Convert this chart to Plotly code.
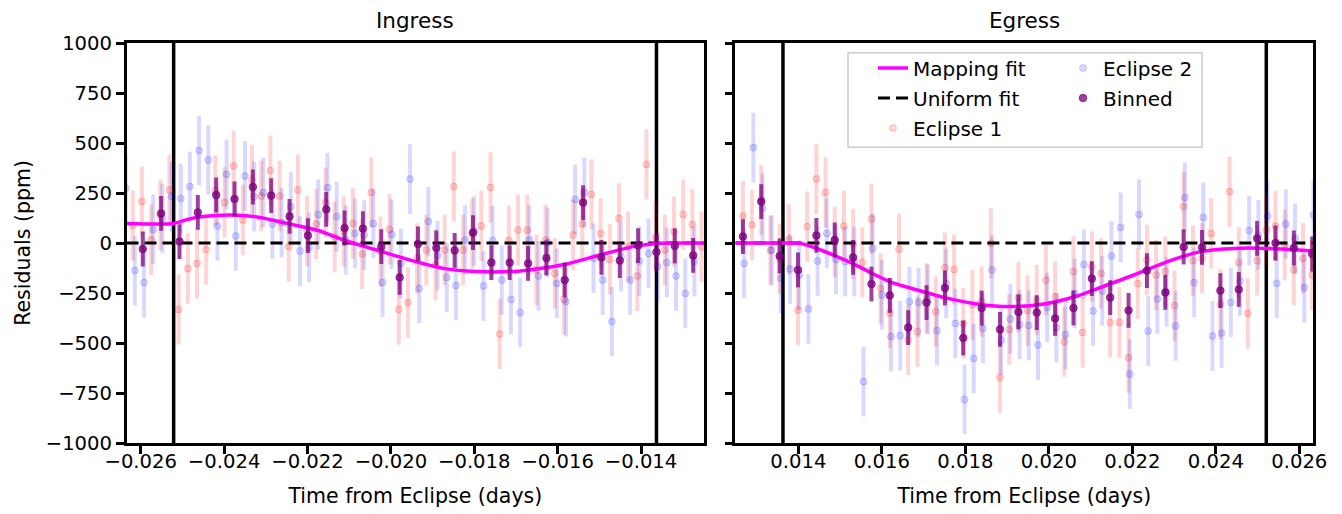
import plotly.graph_objects as go

# ---------------- data ----------------
contacts = [-0.02521, -0.01363, 0.01363, 0.02521]

# Eclipse 1 – ingress
e1_in_t = [-0.02641, -0.02619, -0.02597, -0.02575, -0.02553, -0.02531, -0.02509, -0.02487, -0.02465, -0.02443,
           -0.02421, -0.02399, -0.02377, -0.02355, -0.02333, -0.02311, -0.02289, -0.02267, -0.02245, -0.02223,
           -0.02201, -0.02179, -0.02157, -0.02135, -0.02113, -0.02091, -0.02069, -0.02047, -0.02025, -0.02003,
           -0.01981, -0.01959, -0.01937, -0.01915, -0.01893, -0.01871, -0.01849, -0.01827, -0.01805, -0.01783,
           -0.01761, -0.01739, -0.01717, -0.01695, -0.01673, -0.01651, -0.01629, -0.01607, -0.01585, -0.01563,
           -0.01541, -0.01519, -0.01497, -0.01475, -0.01453, -0.01431, -0.01409, -0.01387, -0.01365, -0.01343,
           -0.01321, -0.01299, -0.01277, -0.01255]
e1_in_v = [187, 87, 207, 15, 140, 265, -332, -128, -102, -33,
           262, 203, 385, 115, 315, 235, 362, 235, -18, 265,
           60, 95, 202, 30, 57, 98, -55, 252, -43, 68,
           -332, -298, -77, -35, -110, -35, 282, -35, 48, 85,
           278, -455, 12, 65, 65, -135, 15, -152, -282, 40,
           95, 243, 48, -82, 123, -18, -165, 393, 28, -35,
           57, 143, 93, -18]

# Eclipse 2 – ingress
e2_in_t = [-0.02636, -0.02614, -0.02592, -0.02570, -0.02548, -0.02526, -0.02504, -0.02482, -0.02460, -0.02438,
           -0.02416, -0.02394, -0.02372, -0.02350, -0.02328, -0.02306, -0.02284, -0.02262, -0.02240, -0.02218,
           -0.02196, -0.02174, -0.02152, -0.02130, -0.02108, -0.02086, -0.02064, -0.02042, -0.02020, -0.01998,
           -0.01976, -0.01954, -0.01932, -0.01910, -0.01888, -0.01866, -0.01844, -0.01822, -0.01800, -0.01778,
           -0.01756, -0.01734, -0.01712, -0.01690, -0.01668, -0.01646, -0.01624, -0.01602, -0.01580, -0.01558,
           -0.01536, -0.01514, -0.01492, -0.01470, -0.01448, -0.01426, -0.01404, -0.01382, -0.01360, -0.01338,
           -0.01316, -0.01294, -0.01272]
e2_in_v = [273, -138, -198, 68, 123, 232, 223, 282, 462, 415,
           85, 343, 35, 335, 232, 252, 95, 102, 182, -40,
           -22, 143, 277, 132, 15, 48, 40, 98, -197, 43,
           -102, 320, -227, 107, -63, -172, -213, 15, 60, -215,
           12, -185, -282, -347, 15, -165, 2, -202, -293, 218,
           252, -77, -185, -393, -68, -185, -90, -52, -118, -98,
           -165, -252, -93]

# Eclipse 1 – egress
e1_eg_t = [0.01267, 0.01289, 0.01311, 0.01333, 0.01355, 0.01377, 0.01399, 0.01421, 0.01443, 0.01465,
           0.01487, 0.01509, 0.01531, 0.01553, 0.01575, 0.01597, 0.01619, 0.01641, 0.01663, 0.01685,
           0.01707, 0.01729, 0.01751, 0.01773, 0.01795, 0.01817, 0.01839, 0.01861, 0.01883, 0.01905,
           0.01927, 0.01949, 0.01971, 0.01993, 0.02015, 0.02037, 0.02059, 0.02081, 0.02103, 0.02125,
           0.02147, 0.02169, 0.02191, 0.02213, 0.02235, 0.02257, 0.02279, 0.02301, 0.02323, 0.02345,
           0.02367, 0.02389, 0.02411, 0.02433, 0.02455, 0.02477, 0.02499, 0.02521, 0.02543, 0.02565,
           0.02587, 0.02609, 0.02631]
e1_eg_v = [135, 90, 215, -38, -78, 18, -335, 82, 320, 253,
           5, 85, -5, -97, 120, -227, -350, -30, -485, -443,
           -277, -343, -123, -132, -402, -310, -293, -2, -672, -432,
           -272, -338, -285, -185, -268, -493, -143, -447, -118, -152,
           -397, -397, -573, -203, -85, -160, -143, -313, 182, -88,
           -77, 48, -307, 257, -97, -352, -88, 65, 85, -10,
           -135, -77, -160]

# Eclipse 2 – egress
e2_eg_t = [0.01270, 0.01292, 0.01314, 0.01336, 0.01358, 0.01380, 0.01402, 0.01424, 0.01446, 0.01468,
           0.01490, 0.01512, 0.01534, 0.01556, 0.01578, 0.01600, 0.01622, 0.01644, 0.01666, 0.01688,
           0.01710, 0.01732, 0.01754, 0.01776, 0.01798, 0.01820, 0.01842, 0.01864, 0.01886, 0.01908,
           0.01930, 0.01952, 0.01974, 0.01996, 0.02018, 0.02040, 0.02062, 0.02084, 0.02106, 0.02128,
           0.02150, 0.02172, 0.02194, 0.02216, 0.02238, 0.02260, 0.02282, 0.02304, 0.02326, 0.02348,
           0.02370, 0.02392, 0.02414, 0.02436, 0.02458, 0.02480, 0.02502, 0.02524, 0.02546, 0.02568,
           0.02590, 0.02612, 0.02634]
e2_eg_v = [-102, 477, 173, -35, -177, -130, -160, -330, -90, 48,
           -82, -93, -93, -693, -27, -260, -468, -463, -293, -297,
           -282, -438, -202, -402, -782, -577, -428, -135, -485, -380,
           -407, -412, -510, -322, -423, -457, -252, -107, -340, -240,
           -65, 78, -655, 143, -440, -280, -245, -415, 228, -198,
           128, -465, -450, -297, -190, 62, 40, 135, -202, 95,
           23, -223, 140]

# Binned
bin_in_t = [-0.02595, -0.02551, -0.02507, -0.02463, -0.02419, -0.02375, -0.02331, -0.02287, -0.02243, -0.02199,
            -0.02155, -0.02111, -0.02067, -0.02023, -0.01979, -0.01935, -0.01891, -0.01847, -0.01803, -0.01759,
            -0.01715, -0.01671, -0.01627, -0.01583, -0.01539, -0.01495, -0.01451, -0.01407, -0.01363, -0.01319,
            -0.01275]
bin_in_v = [-30, 148, 7, 153, 240, 220, 280, 237, 133, 37,
            168, 75, 72, -18, -172, -5, -25, -37, 52, -98,
            -98, -102, -75, -185, 202, -72, -88, -13, -45, -15,
            -62]
bin_eg_t = [0.01267, 0.01311, 0.01355, 0.01399, 0.01443, 0.01487, 0.01531, 0.01575, 0.01619, 0.01663,
            0.01707, 0.01751, 0.01795, 0.01839, 0.01883, 0.01927, 0.01971, 0.02015, 0.02059, 0.02103,
            0.02147, 0.02191, 0.02235, 0.02279, 0.02323, 0.02367, 0.02411, 0.02455, 0.02499, 0.02543,
            0.02587, 0.02631]
bin_eg_v = [32, 207, -65, -135, 38, 15, -72, -205, -262, -423,
            -298, -225, -475, -325, -432, -345, -348, -377, -325, -178,
            -273, -337, -138, -247, -20, -22, -238, -232, 23, 0,
            -25, -55]

e1_err = 176
e2_err = 174
bin_err = 87

# Model curves
map_in_t = [-0.02634, -0.02522, -0.02487, -0.02450, -0.02386, -0.02314, -0.02250, -0.02194, -0.02170,
            -0.02114, -0.02034, -0.01954, -0.01874, -0.01794, -0.01714, -0.01659, -0.01578, -0.01499,
            -0.01419, -0.01363, -0.01249]
map_in_v = [98, 98, 118, 132, 140, 128, 98, 73, 60, 15, -35, -85, -127, -143, -143, -132, -105, -60,
            -18, -2, 0]
map_eg_t = [0.01249, 0.01365, 0.01407, 0.01447, 0.01527, 0.01575, 0.01623, 0.01668, 0.01748, 0.01828,
            0.01908, 0.01988, 0.02068, 0.02124, 0.02204, 0.02284, 0.02364, 0.02444, 0.02524, 0.02634]
map_eg_v = [0, 0, -3, -30, -100, -150, -197, -225, -272, -305, -318, -305, -265, -222, -160, -93, -43,
            -27, -27, -40]

uni_in_t = [-0.02634, -0.01249]
uni_eg_t = [0.01249, 0.02634]
uni_v = [0, 0]

# ---------------- styling ----------------
FONT = "DejaVu Sans"
TICK_SIZE = 19.6
LABEL_SIZE = 20.5
LEG_SIZE = 20
C_E1 = "rgba(255,0,0,0.17)"
C_E2 = "rgba(0,0,255,0.15)"
C_BIN = "rgba(128,0,128,0.75)"
C_MAP = "#ff00ff"

fig = go.Figure()


def add_panel(xa, ya, e1t, e1v, e2t, e2v, bt, bv, mt, mv, ut, first):
    fig.add_trace(go.Scatter(
        x=e1t, y=e1v, mode="markers", name="Eclipse 1", legend="legend", legendgroup="e1",
        legendrank=3, showlegend=first, xaxis=xa, yaxis=ya,
        marker=dict(color=C_E1, size=7, line=dict(color=C_E1, width=1)),
        error_y=dict(type="constant", value=e1_err, color=C_E1, thickness=4, width=0)))
    fig.add_trace(go.Scatter(
        x=e2t, y=e2v, mode="markers", name="Eclipse 2", legend="legend2", legendgroup="e2",
        legendrank=1, showlegend=first, xaxis=xa, yaxis=ya,
        marker=dict(color=C_E2, size=7, line=dict(color=C_E2, width=1)),
        error_y=dict(type="constant", value=e2_err, color=C_E2, thickness=4, width=0)))
    fig.add_trace(go.Scatter(
        x=ut, y=uni_v, mode="lines", name="Uniform fit", legend="legend", legendgroup="uni",
        legendrank=2, showlegend=first, xaxis=xa, yaxis=ya,
        line=dict(color="black", width=3, dash="12px,6px")))
    fig.add_trace(go.Scatter(
        x=mt, y=mv, mode="lines", name="Mapping fit", legend="legend", legendgroup="map",
        legendrank=1, showlegend=first, xaxis=xa, yaxis=ya,
        line=dict(color=C_MAP, width=3.5, shape="spline", smoothing=0.7)))
    fig.add_trace(go.Scatter(
        x=bt, y=bv, mode="markers", name="Binned", legend="legend2", legendgroup="bin",
        legendrank=2, showlegend=first, xaxis=xa, yaxis=ya,
        marker=dict(color=C_BIN, size=7.5, line=dict(color=C_BIN, width=1)),
        error_y=dict(type="constant", value=bin_err, color=C_BIN, thickness=4, width=0)))


add_panel("x", "y", e1_in_t, e1_in_v, e2_in_t, e2_in_v, bin_in_t, bin_in_v, map_in_t, map_in_v, uni_in_t, True)
add_panel("x2", "y2", e1_eg_t, e1_eg_v, e2_eg_t, e2_eg_v, bin_eg_t, bin_eg_v, map_eg_t, map_eg_v, uni_eg_t, False)

W, H = 1342, 514
for i, c in enumerate(contacts):
    xr = "x" if i < 2 else "x2"
    fig.add_shape(type="line", xref=xr, yref="y domain" if i < 2 else "y2 domain",
                  x0=c, x1=c, y0=0, y1=1, line=dict(color="black", width=3.5), layer="below")

axis_common = dict(showline=True, linecolor="black", linewidth=2.5, mirror=True,
                   ticks="outside", ticklen=8, tickwidth=2.5, tickcolor="black",
                   showgrid=False, zeroline=False,
                   tickfont=dict(family=FONT, size=TICK_SIZE, color="black"))

xlab = dict(text="Time from Eclipse (days)", font=dict(family=FONT, size=LABEL_SIZE, color="black"),
            standoff=17)

fig.update_layout(
    width=W, height=H,
    margin=dict(l=0, r=0, t=0, b=0),
    paper_bgcolor="white", plot_bgcolor="white",
    font=dict(family=FONT, color="black"),
    xaxis=dict(domain=[126.7 / W, 704 / W], range=[-0.026336, -0.01249], dtick=0.002, tick0=0,
               tickformat=".3f", anchor="y", title=xlab, automargin=False, ticklabelstandoff=-9,
               **axis_common),
    xaxis2=dict(domain=[735.3 / W, 1313.3 / W], range=[0.012488, 0.026336], dtick=0.002, tick0=0,
                tickformat=".3f", anchor="y2", title=xlab, automargin=False, ticklabelstandoff=-9,
                **axis_common),
    yaxis=dict(domain=[1 - 443 / H, 1 - 43 / H], range=[-1000, 1000], dtick=250, tick0=0,
               anchor="x", automargin=False, ticklabelstandoff=0,
               title=dict(text="Residuals (ppm)", font=dict(family=FONT, size=LABEL_SIZE, color="black"),
                          standoff=10),
               **axis_common),
    yaxis2=dict(domain=[1 - 443 / H, 1 - 43 / H], range=[-1000, 1000], dtick=250, tick0=0,
                anchor="x2", matches="y", showticklabels=False, automargin=False, **axis_common),
    legend=dict(x=873 / W, y=1 - 48.5 / H, xanchor="left", yanchor="top", orientation="v",
                bgcolor="rgba(0,0,0,0)", borderwidth=0, tracegroupgap=1,
                font=dict(family=FONT, size=LEG_SIZE, color="black")),
    legend2=dict(x=1063 / W, y=1 - 48.5 / H, xanchor="left", yanchor="top", orientation="v",
                 bgcolor="rgba(0,0,0,0)", borderwidth=0, tracegroupgap=1,
                 font=dict(family=FONT, size=LEG_SIZE, color="black")),
    annotations=[
        dict(text="Ingress", x=(126.7 + 704) / 2 / W, y=1 - 21 / H, xref="paper", yref="paper",
             showarrow=False, xanchor="center", yanchor="middle",
             font=dict(family=FONT, size=21.5, color="black")),
        dict(text="Egress", x=(735.3 + 1313.3) / 2 / W, y=1 - 21 / H, xref="paper", yref="paper",
             showarrow=False, xanchor="center", yanchor="middle",
             font=dict(family=FONT, size=21.5, color="black")),
    ],
)

# legend frame (matplotlib-style box)
fig.add_shape(type="rect", xref="paper", yref="paper", x0=848 / W, x1=1202 / W,
              y0=1 - 147.3 / H, y1=1 - 52.7 / H, line=dict(color="#cccccc", width=1.5),
              fillcolor="rgba(255,255,255,0.8)", layer="above")

fig.write_html("out.html", config={"displayModeBar": False},
               post_script="document.body.style.margin='0';")
